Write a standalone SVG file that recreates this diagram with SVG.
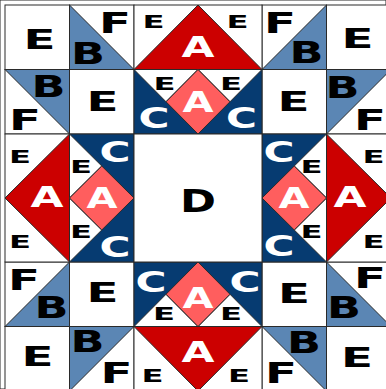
<svg xmlns="http://www.w3.org/2000/svg" width="386" height="389" viewBox="0 0 386 389">
<style>
rect,polygon{stroke:#2a2a2a;stroke-width:1;stroke-linejoin:miter}
.w{fill:#fff}.bl{fill:#5B86B4}.nv{fill:#063B71}.rd{fill:#CC0000}.pk{fill:#FF5E5E}
text{font-family:"DejaVu Sans","Liberation Sans",sans-serif;font-weight:bold;text-anchor:middle}
.k{fill:#000}.wt{fill:#fff}
.e{font-size:26px}.f{font-size:29px}.b{font-size:30px}.se{font-size:18px}.a{font-size:27.5px}.c{font-size:29px}.d{font-size:31.5px}
</style>
<rect x="0" y="0" width="386" height="389" fill="#fff" stroke="none"/>
<!-- top-left quadrant -->
<g id="tl-e1"><rect class="w" x="5" y="5" width="64.5" height="64.5"/><text class="k e" x="39.5" y="49" textLength="32" lengthAdjust="spacingAndGlyphs">E</text></g>
<g id="tl-bf1"><rect class="w" x="69.5" y="5" width="64.5" height="64.5"/><polygon class="bl" points="69.5,5 134,69.5 69.5,69.5"/><text class="k b" x="88" y="64" textLength="34" lengthAdjust="spacingAndGlyphs">B</text><text class="k f" x="115" y="33" textLength="32" lengthAdjust="spacingAndGlyphs">F</text></g>
<g id="tl-bf2"><rect class="w" x="5" y="69.5" width="64.5" height="64.5"/><polygon class="bl" points="5,69.5 69.5,69.5 69.5,134"/><text class="k b" x="48.5" y="97" textLength="34" lengthAdjust="spacingAndGlyphs">B</text><text class="k f" x="25" y="130" textLength="32" lengthAdjust="spacingAndGlyphs">F</text></g>
<g id="tl-e2"><rect class="w" x="69.5" y="69.5" width="64.5" height="64.5"/><text class="k e" x="102.5" y="111" textLength="32" lengthAdjust="spacingAndGlyphs">E</text></g>
<!-- top-right quadrant -->
<g id="tr-bf1"><rect class="w" x="262" y="5" width="64.5" height="64.5"/><polygon class="bl" points="326.5,5 326.5,69.5 262,69.5"/><text class="k b" x="306.5" y="63" textLength="34" lengthAdjust="spacingAndGlyphs">B</text><text class="k f" x="280" y="33" textLength="32" lengthAdjust="spacingAndGlyphs">F</text></g>
<g id="tr-e1"><rect class="w" x="326.5" y="5" width="64.5" height="64.5"/><text class="k e" x="357.5" y="48" textLength="32" lengthAdjust="spacingAndGlyphs">E</text></g>
<g id="tr-e2"><rect class="w" x="262" y="69.5" width="64.5" height="64.5"/><text class="k e" x="293.5" y="111" textLength="32" lengthAdjust="spacingAndGlyphs">E</text></g>
<g id="tr-bf2"><rect class="w" x="326.5" y="69.5" width="64.5" height="64.5"/><polygon class="bl" points="326.5,69.5 391,69.5 326.5,134"/><text class="k b" x="342.5" y="98" textLength="34" lengthAdjust="spacingAndGlyphs">B</text><text class="k f" x="370" y="130" textLength="32" lengthAdjust="spacingAndGlyphs">F</text></g>
<!-- bottom-left quadrant -->
<g id="bl-bf1"><rect class="w" x="5" y="262" width="64.5" height="64.5"/><polygon class="bl" points="69.5,262 69.5,326.5 5,326.5"/><text class="k b" x="51.5" y="318" textLength="34" lengthAdjust="spacingAndGlyphs">B</text><text class="k f" x="24" y="290" textLength="32" lengthAdjust="spacingAndGlyphs">F</text></g>
<g id="bl-e1"><rect class="w" x="69.5" y="262" width="64.5" height="64.5"/><text class="k e" x="102.5" y="302" textLength="32" lengthAdjust="spacingAndGlyphs">E</text></g>
<g id="bl-e2"><rect class="w" x="5" y="326.5" width="64.5" height="64.5"/><text class="k e" x="37.5" y="366" textLength="32" lengthAdjust="spacingAndGlyphs">E</text></g>
<g id="bl-bf2"><rect class="w" x="69.5" y="326.5" width="64.5" height="64.5"/><polygon class="bl" points="69.5,326.5 134,326.5 69.5,391"/><text class="k b" x="87.5" y="352" textLength="34" lengthAdjust="spacingAndGlyphs">B</text><text class="k f" x="116.5" y="383" textLength="32" lengthAdjust="spacingAndGlyphs">F</text></g>
<!-- bottom-right quadrant -->
<g id="br-e1"><rect class="w" x="262" y="262" width="64.5" height="64.5"/><text class="k e" x="294" y="303" textLength="32" lengthAdjust="spacingAndGlyphs">E</text></g>
<g id="br-bf1"><rect class="w" x="326.5" y="262" width="64.5" height="64.5"/><polygon class="bl" points="326.5,262 391,326.5 326.5,326.5"/><text class="k b" x="344" y="318" textLength="34" lengthAdjust="spacingAndGlyphs">B</text><text class="k f" x="370" y="288" textLength="32" lengthAdjust="spacingAndGlyphs">F</text></g>
<g id="br-bf2"><rect class="w" x="262" y="326.5" width="64.5" height="64.5"/><polygon class="bl" points="262,326.5 326.5,326.5 326.5,391"/><text class="k b" x="304" y="353" textLength="34" lengthAdjust="spacingAndGlyphs">B</text><text class="k f" x="281" y="383" textLength="32" lengthAdjust="spacingAndGlyphs">F</text></g>
<g id="br-e2"><rect class="w" x="326.5" y="326.5" width="64.5" height="64.5"/><text class="k e" x="357" y="367" textLength="32" lengthAdjust="spacingAndGlyphs">E</text></g>
<!-- top geese -->
<g id="top-goose"><rect class="w" x="134" y="5" width="128" height="64.5"/><polygon class="rd" points="134,69.5 198,5 262,69.5"/><text class="k se" x="153.5" y="28" textLength="22" lengthAdjust="spacingAndGlyphs">E</text><text class="k se" x="237.5" y="28" textLength="22" lengthAdjust="spacingAndGlyphs">E</text><text class="wt a" x="198" y="57" textLength="33" lengthAdjust="spacingAndGlyphs">A</text></g>
<g id="top-diamond"><rect class="nv" x="134" y="69.5" width="128" height="64.5"/><polygon class="w" points="134,69.5 198,69.5 166,101.75"/><polygon class="w" points="198,69.5 262,69.5 230,101.75"/><polygon class="pk" points="198,69.5 230,101.75 198,134 166,101.75"/><text class="k se" x="164.5" y="90" textLength="22" lengthAdjust="spacingAndGlyphs">E</text><text class="k se" x="231" y="90" textLength="22" lengthAdjust="spacingAndGlyphs">E</text><text class="wt a" x="198" y="112" textLength="31" lengthAdjust="spacingAndGlyphs">A</text><text class="wt c" x="154" y="128" textLength="31" lengthAdjust="spacingAndGlyphs">C</text><text class="wt c" x="241.5" y="128" textLength="31" lengthAdjust="spacingAndGlyphs">C</text></g>
<!-- left geese -->
<g id="left-goose"><rect class="w" x="5" y="134" width="64.5" height="128"/><polygon class="rd" points="69.5,134 5,198 69.5,262"/><text class="k se" x="20" y="163" textLength="22" lengthAdjust="spacingAndGlyphs">E</text><text class="k se" x="20" y="248" textLength="22" lengthAdjust="spacingAndGlyphs">E</text><text class="wt a" x="47" y="207" textLength="33" lengthAdjust="spacingAndGlyphs">A</text></g>
<g id="left-diamond"><rect class="nv" x="69.5" y="134" width="64.5" height="128"/><polygon class="w" points="69.5,134 69.5,198 101.75,166"/><polygon class="w" points="69.5,198 69.5,262 101.75,230"/><polygon class="pk" points="69.5,198 101.75,166 134,198 101.75,230"/><text class="k se" x="81" y="173" textLength="22" lengthAdjust="spacingAndGlyphs">E</text><text class="k se" x="81" y="238" textLength="22" lengthAdjust="spacingAndGlyphs">E</text><text class="wt a" x="102" y="208" textLength="31" lengthAdjust="spacingAndGlyphs">A</text><text class="wt c" x="115" y="162" textLength="31" lengthAdjust="spacingAndGlyphs">C</text><text class="wt c" x="115" y="257" textLength="31" lengthAdjust="spacingAndGlyphs">C</text></g>
<!-- right geese -->
<g id="right-goose"><rect class="w" x="326.5" y="134" width="64.5" height="128"/><polygon class="rd" points="326.5,134 391,198 326.5,262"/><text class="k se" x="373.5" y="163" textLength="22" lengthAdjust="spacingAndGlyphs">E</text><text class="k se" x="373.5" y="248" textLength="22" lengthAdjust="spacingAndGlyphs">E</text><text class="wt a" x="350" y="207" textLength="33" lengthAdjust="spacingAndGlyphs">A</text></g>
<g id="right-diamond"><rect class="nv" x="262" y="134" width="64.5" height="128"/><polygon class="w" points="326.5,134 326.5,198 294.25,166"/><polygon class="w" points="326.5,198 326.5,262 294.25,230"/><polygon class="pk" points="262,198 294.25,166 326.5,198 294.25,230"/><text class="k se" x="311.5" y="173" textLength="22" lengthAdjust="spacingAndGlyphs">E</text><text class="k se" x="311.5" y="238" textLength="22" lengthAdjust="spacingAndGlyphs">E</text><text class="wt a" x="294" y="208" textLength="31" lengthAdjust="spacingAndGlyphs">A</text><text class="wt c" x="279" y="162" textLength="31" lengthAdjust="spacingAndGlyphs">C</text><text class="wt c" x="279" y="256" textLength="31" lengthAdjust="spacingAndGlyphs">C</text></g>
<!-- bottom geese -->
<g id="bottom-diamond"><rect class="nv" x="134" y="262" width="128" height="64.5"/><polygon class="w" points="134,326.5 198,326.5 166,294.25"/><polygon class="w" points="198,326.5 262,326.5 230,294.25"/><polygon class="pk" points="198,262 230,294.25 198,326.5 166,294.25"/><text class="k se" x="164" y="320" textLength="22" lengthAdjust="spacingAndGlyphs">E</text><text class="k se" x="231" y="320" textLength="22" lengthAdjust="spacingAndGlyphs">E</text><text class="wt a" x="198" y="308" textLength="31" lengthAdjust="spacingAndGlyphs">A</text><text class="wt c" x="151" y="292" textLength="31" lengthAdjust="spacingAndGlyphs">C</text><text class="wt c" x="245" y="292" textLength="31" lengthAdjust="spacingAndGlyphs">C</text></g>
<g id="bottom-goose"><rect class="w" x="134" y="326.5" width="128" height="64.5"/><polygon class="rd" points="134,326.5 198,391 262,326.5"/><text class="k se" x="152.5" y="382" textLength="22" lengthAdjust="spacingAndGlyphs">E</text><text class="k se" x="239" y="382" textLength="22" lengthAdjust="spacingAndGlyphs">E</text><text class="wt a" x="198" y="362" textLength="33" lengthAdjust="spacingAndGlyphs">A</text></g>
<!-- center -->
<g id="center-d"><rect class="w" x="134" y="134" width="128" height="128"/><text class="k d" x="198" y="212" textLength="36" lengthAdjust="spacingAndGlyphs">D</text></g>
<g id="connectors"></g>
</svg>
